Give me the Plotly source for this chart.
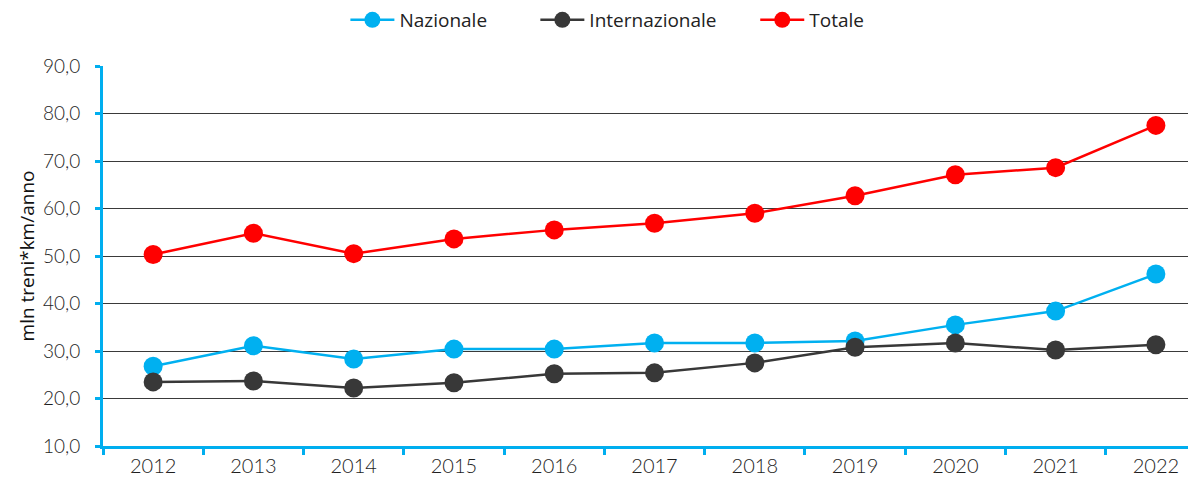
import plotly.graph_objects as go

years = ["2012", "2013", "2014", "2015", "2016", "2017", "2018", "2019", "2020", "2021", "2022"]
nazionale = [26.8, 31.1, 28.3, 30.4, 30.4, 31.7, 31.7, 32.1, 35.5, 38.4, 46.2]
internazionale = [23.5, 23.7, 22.2, 23.3, 25.2, 25.4, 27.5, 30.8, 31.7, 30.2, 31.3]
totale = [50.3, 54.8, 50.5, 53.6, 55.5, 56.9, 59.0, 62.7, 67.1, 68.6, 77.5]
y_ticks = [10, 20, 30, 40, 50, 60, 70, 80, 90]
y_tick_labels = ["10,0", "20,0", "30,0", "40,0", "50,0", "60,0", "70,0", "80,0", "90,0"]

BLUE = "#00AEEF"
fig = go.Figure()
series = [("Nazionale", nazionale, "#00B0F0", "legend"),
          ("Internazionale", internazionale, "#383838", "legend2"),
          ("Totale", totale, "#FF0000", "legend3")]
for name, vals, col, lg in series:
    fig.add_trace(go.Scatter(x=years, y=vals, name=name, mode="lines+markers", legend=lg,
                             line=dict(color=col, width=2.5),
                             marker=dict(color=col, size=19)))

leg_font = dict(family="Open Sans", size=19, color="#222222")
def leg(xpos):
    return dict(orientation="h", x=xpos, xref="container", xanchor="left",
                y=0.9746, yref="container", yanchor="middle",
                font=leg_font, itemwidth=44, bgcolor="rgba(0,0,0,0)")

# page body has an 8px default margin, so the figure is sized to fit the window
fig.update_layout(
    width=1188, height=473,
    margin=dict(l=95, r=0, t=58, b=35, autoexpand=False),
    paper_bgcolor="white", plot_bgcolor="white",
    showlegend=True,
    legend=leg(0.2840), legend2=leg(0.4439), legend3=leg(0.6290),
    font=dict(family="Lato", color="#222222"),
)
fig.update_xaxes(type="category", range=[-0.5, 10.4], showgrid=False, automargin=False,
                 showline=True, linecolor=BLUE, linewidth=3,
                 ticks="outside", tickson="boundaries", ticklen=6, tickwidth=3, tickcolor=BLUE,
                 tickfont=dict(family="Lato", size=20, color="#1e1e1e", weight=300))
fig.update_yaxes(range=[10, 90], tickvals=y_ticks, ticktext=y_tick_labels, automargin=False,
                 showgrid=True, gridcolor="#3a3a3a", gridwidth=1.2,
                 showline=True, linecolor=BLUE, linewidth=3,
                 ticks="outside", ticklen=5, tickwidth=3, tickcolor=BLUE,
                 ticklabelstandoff=11,
                 tickfont=dict(family="Lato", size=19, color="#1e1e1e", weight=300),
                 title=dict(text="mln treni*km/anno", font=dict(family="Open Sans", size=19, color="#111111"), standoff=4),
                 zeroline=False)
fig.write_html("out.html")
